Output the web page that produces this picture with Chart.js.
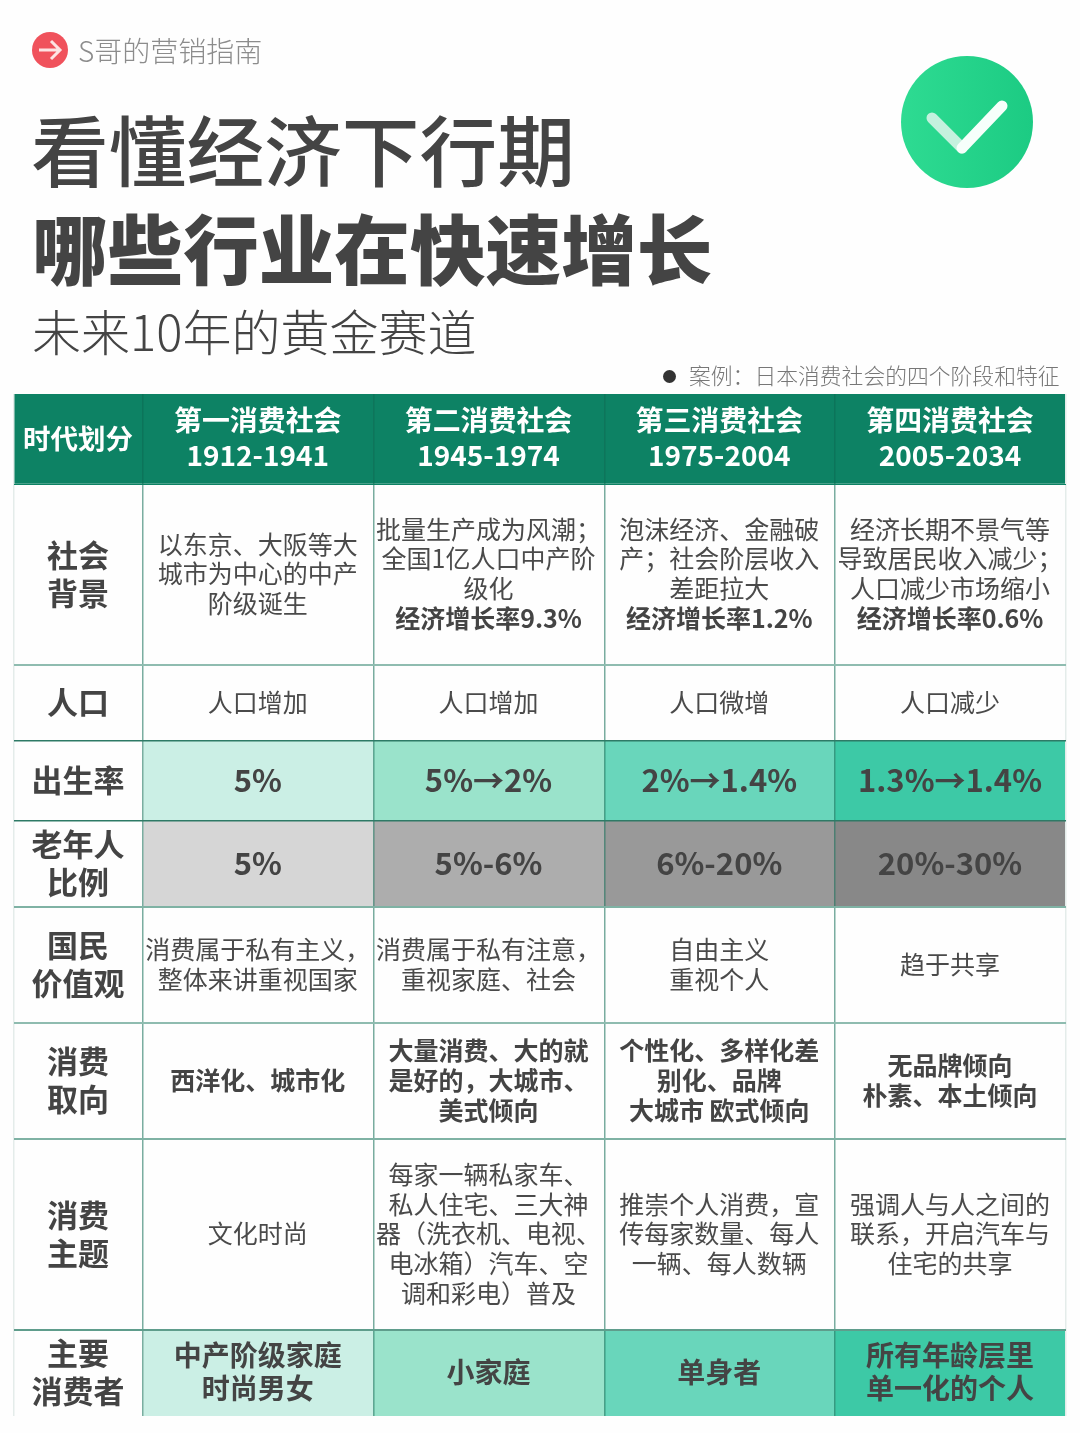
<!DOCTYPE html>
<html>
<head>
    <meta charset="utf-8">
    <title>看懂经济下行期</title>
    <script src="https://cdn.jsdelivr.net/npm/chart.js"></script>
    <style>
        html, body { margin: 0; padding: 0; background: #fefefe; }
        body { position: relative; width: 1080px; height: 1433px; overflow: hidden; font-family: "Noto Sans CJK SC", "Noto Sans", sans-serif; color: #444; }
        #chart { position: absolute; left: 0; top: 0; }
        .label { position: absolute; white-space: nowrap; line-height: 1; }
        #brand { left: 78px; top: 36px; font-size: 28px; font-weight: 300; color: #8c8c8c; }
        #title1 { left: 31px; top: 109px; font-size: 77.7px; font-weight: 500; }
        #title2 { left: 32px; top: 209px; font-size: 75.6px; font-weight: 900; }
        #subtitle { left: 32px; top: 305px; font-size: 49px; font-weight: 300; }
        #caseNote { left: 689px; top: 364px; font-size: 21.8px; font-weight: 300; color: #777; }
        #dot { position: absolute; left: 663px; top: 370px; width: 13px; height: 13px; border-radius: 50%; background: #333; }
        svg { position: absolute; }
    </style>
</head>
<body>
    <canvas id="chart" width="1080" height="1433"></canvas>

    <svg style="left:30px;top:30px" width="40" height="40" viewBox="0 0 40 40">
        <circle cx="20" cy="20" r="18" fill="#f0525c"/>
        <path d="M9 20 H29 M21 11 L30 20 L21 29" fill="none" stroke="#fde3e3" stroke-width="3"/>
    </svg>
    <div class="label" id="brand">S哥的营销指南</div>
    <div class="label" id="title1">看懂经济下行期</div>
    <div class="label" id="title2">哪些行业在快速增长</div>
    <div class="label" id="subtitle">未来10年的黄金赛道</div>
    <svg style="left:896px;top:52px" width="140" height="140" viewBox="0 0 140 140">
        <defs>
            <linearGradient id="badge" x1="0" y1="0" x2="1" y2="0">
                <stop offset="0" stop-color="#2edb92"/>
                <stop offset="1" stop-color="#1ccb83"/>
            </linearGradient>
        </defs>
        <circle cx="71" cy="70" r="66" fill="url(#badge)"/>
        <path d="M36 66 L66 96" stroke="#c4f1de" stroke-width="11" stroke-linecap="round"/>
        <path d="M66 96 L106 54" stroke="#f6fffb" stroke-width="11" stroke-linecap="round"/>
    </svg>
    <div id="dot"></div>
    <div class="label" id="caseNote">案例：日本消费社会的四个阶段和特征</div>

    <script>
        // table content
        const cornerLabel = '时代划分';
        const eras = ['第一消费社会', '第二消费社会', '第三消费社会', '第四消费社会'];
        const eraYears = ['1912-1941', '1945-1974', '1975-2004', '2005-2034'];
        const rowLabels = ['社会\n背景', '人口', '出生率', '老年人\n比例', '国民\n价值观', '消费\n取向', '消费\n主题', '主要\n消费者'];
        const background = [
            '以东京、大阪等大\n城市为中心的中产\n阶级诞生',
            '批量生产成为风潮；\n全国1亿人口中产阶\n级化\n经济增长率9.3%',
            '泡沫经济、金融破\n产；社会阶层收入\n差距拉大\n经济增长率1.2%',
            '经济长期不景气等\n导致居民收入减少；\n人口减少市场缩小\n经济增长率0.6%'
        ];
        const population = ['人口增加', '人口增加', '人口微增', '人口减少'];
        const birthRate = ['5%', '5%→2%', '2%→1.4%', '1.3%→1.4%'];
        const elderShare = ['5%', '5%-6%', '6%-20%', '20%-30%'];
        const values = ['消费属于私有主义，\n整体来讲重视国家', '消费属于私有注意，\n重视家庭、社会', '自由主义\n重视个人', '趋于共享'];
        const orientation = ['西洋化、城市化', '大量消费、大的就\n是好的，大城市、\n美式倾向', '个性化、多样化差\n别化、品牌\n大城市 欧式倾向', '无品牌倾向\n朴素、本土倾向'];
        const themes = [
            '文化时尚',
            '每家一辆私家车、\n私人住宅、三大神\n器（洗衣机、电视、\n电冰箱）汽车、空\n调和彩电）普及',
            '推崇个人消费，宣\n传每家数量、每人\n一辆、每人数辆',
            '强调人与人之间的\n联系，开启汽车与\n住宅的共享'
        ];
        const consumers = ['中产阶级家庭\n时尚男女', '小家庭', '单身者', '所有年龄层里\n单一化的个人'];
        const tableRows = [background, population, birthRate, elderShare, values, orientation, themes, consumers];

        // layout, in page pixels
        const columnEdges = [14, 143, 373.5, 604.5, 835, 1066];
        const rowEdges = [394, 484, 665, 741, 821, 907, 1023, 1139, 1330, 1416];

        // styles
        const GREEN = '#0d8264';
        const WHITE = '#fefefe';
        const greens = ['#cbefe5', '#9ae3cb', '#69d6bb', '#3dc9a6'];
        const greys = ['#d6d6d6', '#adadad', '#999999', '#888888'];
        const plain = [WHITE, WHITE, WHITE, WHITE];
        const rowFills = [plain, plain, greens, greys, plain, plain, plain, greens];
        const rowFonts = [
            { size: 25, weight: 400, line: 29.8 },
            { size: 25, weight: 400, line: 29.8 },
            { size: 31, weight: 700, line: 38 },
            { size: 31, weight: 700, line: 38 },
            { size: 25, weight: 400, line: 29.8 },
            { size: 25, weight: 700, line: 29.8 },
            { size: 25, weight: 400, line: 29.8 },
            { size: 28, weight: 700, line: 33 }
        ];
        const rowLineColors = ['#e4ecea', GREEN, '#8fbcb0', '#2e7a66', '#2e7a66', '#7fb2a4', '#8fbcb0', '#7fb2a4', '#5f9d8c', '#e4ecea'];
        const rowLineWidths = [0, 1, 2, 1.5, 1.5, 2, 2, 2, 2, 0];
        const FONT = '"Noto Sans CJK SC", "Noto Sans", sans-serif';

        function cellDataset(columnIndex, fills, xAxisID) {
            const center = (columnEdges[columnIndex] + columnEdges[columnIndex + 1]) / 2;
            return {
                xAxisID: xAxisID,
                data: rowEdges.slice(0, -1).map((top, i) => ({ x: center, y: [top, rowEdges[i + 1]] })),
                backgroundColor: fills,
                barThickness: columnEdges[columnIndex + 1] - columnEdges[columnIndex],
                barPercentage: 1,
                categoryPercentage: 1,
                grouped: false
            };
        }

        const datasets = [cellDataset(0, [GREEN].concat(rowLabels.map(() => WHITE)), 'xLabels')];
        eras.forEach((era, c) => {
            datasets.push(cellDataset(c + 1, [GREEN].concat(rowFills.map(fills => fills[c])), 'x'));
        });

        function drawLines(ctx, text, x, y, font, color) {
            const lines = text.split('\n');
            ctx.font = font.weight + ' ' + font.size + 'px ' + FONT;
            ctx.fillStyle = color;
            lines.forEach((line, i) => {
                ctx.fillText(line, x, y + (i - (lines.length - 1) / 2) * font.line);
            });
        }

        const cellText = {
            id: 'cellText',
            afterDraw(chart) {
                const ctx = chart.ctx;
                const xs = chart.scales.x;
                const ys = chart.scales.y;
                const cx = i => xs.getPixelForValue((columnEdges[i] + columnEdges[i + 1]) / 2) - 0.5;
                const cy = i => ys.getPixelForValue((rowEdges[i] + rowEdges[i + 1]) / 2) - 0.7;
                ctx.save();
                ctx.textAlign = 'center';
                ctx.textBaseline = 'middle';

                drawLines(ctx, cornerLabel, cx(0), cy(0), { size: 27.5, weight: 700, line: 35 }, '#ffffff');
                eras.forEach((era, c) => {
                    drawLines(ctx, era, cx(c + 1), cy(0) - 18, { size: 27.9, weight: 700, line: 35 }, '#ffffff');
                    drawLines(ctx, eraYears[c], cx(c + 1), cy(0) + 17, { size: 28, weight: 700, line: 35 }, '#ffffff');
                });

                rowLabels.forEach((label, r) => {
                    drawLines(ctx, label, cx(0), cy(r + 1), { size: 31, weight: 700, line: 38 }, '#444444');
                    tableRows[r].forEach((cell, c) => {
                        const font = rowFonts[r];
                        const lines = cell.split('\n');
                        const last = lines[lines.length - 1];
                        if (last.startsWith('经济增长率')) {
                            // the growth rate closes the cell in bold
                            const top = cy(r + 1) + (lines.length - 1) / 2 * font.line;
                            drawLines(ctx, lines.slice(0, -1).join('\n'), cx(c + 1), cy(r + 1) - font.line / 2, font, '#4a4a4a');
                            drawLines(ctx, last, cx(c + 1), top, { size: font.size, weight: 700, line: font.line }, '#444444');
                        } else {
                            drawLines(ctx, cell, cx(c + 1), cy(r + 1), font, font.weight > 400 ? '#444444' : '#4a4a4a');
                        }
                    });
                });
                ctx.restore();
            }
        };

        new Chart(document.getElementById('chart'), {
            type: 'bar',
            data: { datasets: datasets },
            plugins: [cellText],
            options: {
                responsive: false,
                animation: false,
                events: [],
                layout: { padding: { left: 14, right: 14, top: 394, bottom: 17 } },
                plugins: { legend: { display: false }, tooltip: { enabled: false } },
                scales: {
                    x: {
                        type: 'linear',
                        offset: false,
                        min: 14,
                        max: 1066,
                        afterBuildTicks(axis) { axis.ticks = columnEdges.map(value => ({ value })); },
                        ticks: { display: false, autoSkip: false },
                        border: { display: false },
                        grid: {
                            z: 1,
                            offset: false,
                            drawTicks: false,
                            color: ctx => (ctx.index === 0 || ctx.index === 5) ? '#e4ecea' : 'rgba(13, 105, 82, 0.55)',
                            lineWidth: 1.5
                        }
                    },
                    xLabels: { type: 'linear', offset: false, min: 14, max: 1066, display: false },
                    y: {
                        type: 'linear',
                        min: 394,
                        max: 1416,
                        reverse: true,
                        afterBuildTicks(axis) { axis.ticks = rowEdges.map(value => ({ value })); },
                        ticks: { display: false, autoSkip: false },
                        border: { display: false },
                        grid: {
                            z: 1,
                            drawTicks: false,
                            color: ctx => rowLineColors[ctx.index],
                            lineWidth: ctx => rowLineWidths[ctx.index]
                        }
                    }
                }
            }
        });
    </script>
</body>
</html>
